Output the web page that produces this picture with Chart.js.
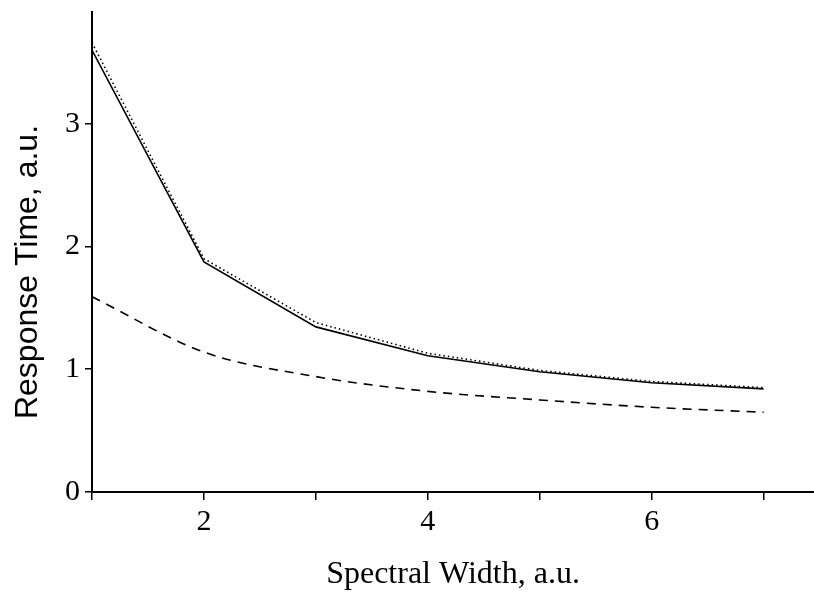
<!DOCTYPE html>
<html>
<head>
<meta charset="utf-8">
<script src="https://cdn.jsdelivr.net/npm/chart.js@4.4.1/dist/chart.umd.min.js"></script>
<style>
    html, body { margin: 0; padding: 0; background: #fff; }
    #wrap { width: 814px; height: 594px; }
</style>
</head>
<body>
<div id="wrap"><canvas id="chart"></canvas></div>
<script>
// --- DATOS ---
const widths = [1, 2, 3, 4, 5, 6, 7];
const solidTimes = [3.60, 1.875, 1.345, 1.11, 0.98, 0.89, 0.84];
const dottedTimes = [3.66, 1.90, 1.38, 1.13, 0.99, 0.90, 0.85];
const dashedTimes = [1.59, 1.14, 0.94, 0.82, 0.75, 0.69, 0.65];
const xTickValues = [1, 2, 3, 4, 5, 6, 7];
const xTickLabels = ['', '2', '', '4', '', '6', ''];
const yTickValues = [0, 1, 2, 3];

const toPoints = (ys) => widths.map((x, i) => ({ x: x, y: ys[i] }));

// Título del eje Y dibujado a mano para poder centrarlo donde está en la figura
const yTitlePlugin = {
    id: 'yTitle',
    afterDraw(chart) {
        const ctx = chart.ctx;
        ctx.save();
        ctx.translate(28, 272);
        ctx.rotate(-Math.PI / 2);
        ctx.font = '32px "Liberation Sans", Arial, sans-serif';
        ctx.fillStyle = '#000';
        ctx.textAlign = 'center';
        ctx.textBaseline = 'middle';
        ctx.fillText('Response Time, a.u.', 0, 0);
        ctx.restore();
    }
};

const serif = '"Liberation Serif", "Times New Roman", serif';

new Chart(document.getElementById('chart'), {
    type: 'line',
    data: {
        datasets: [
            {
                data: toPoints(dottedTimes),
                borderColor: '#000',
                borderWidth: 1.6,
                borderDash: [1.5, 3],
                pointRadius: 0,
                tension: 0
            },
            {
                data: toPoints(solidTimes),
                borderColor: '#000',
                borderWidth: 1.6,
                pointRadius: 0,
                tension: 0
            },
            {
                data: toPoints(dashedTimes),
                borderColor: '#000',
                borderWidth: 1.6,
                borderDash: [9, 7],
                pointRadius: 0,
                cubicInterpolationMode: 'monotone'
            }
        ]
    },
    options: {
        responsive: true,
        maintainAspectRatio: false,
        animation: false,
        layout: { padding: { top: 12, right: 0, left: 0, bottom: 0 } },
        plugins: { legend: { display: false }, tooltip: { enabled: false } },
        scales: {
            x: {
                type: 'linear',
                min: 1,
                max: 7.45,
                afterFit(scale) {
                    scale.height = 102;
                    scale.paddingLeft = 0;
                    scale.paddingRight = 0;
                },
                afterBuildTicks(scale) { scale.ticks = xTickValues.map(v => ({ value: v })); },
                border: { display: true, color: '#000', width: 2 },
                grid: { drawOnChartArea: false, drawTicks: true, tickLength: 8, color: '#000', lineWidth: 1.5 },
                ticks: {
                    autoSkip: false,
                    maxRotation: 0,
                    padding: 4,
                    color: '#000',
                    font: { family: serif, size: 30 },
                    callback: (v) => xTickLabels[xTickValues.indexOf(v)] ?? ''
                },
                title: {
                    display: true,
                    text: 'Spectral Width, a.u.',
                    color: '#000',
                    font: { family: serif, size: 32 },
                    padding: { top: 0, bottom: 0 }
                }
            },
            y: {
                min: 0,
                max: 3.91,
                afterFit(scale) {
                    scale.width = 92;
                    scale.paddingTop = 0;
                    scale.paddingBottom = 0;
                },
                afterBuildTicks(scale) { scale.ticks = yTickValues.map(v => ({ value: v })); },
                border: { display: true, color: '#000', width: 2 },
                grid: { drawOnChartArea: false, drawTicks: true, tickLength: 7, color: '#000', lineWidth: 1.5 },
                ticks: {
                    padding: 5,
                    color: '#000',
                    font: { family: serif, size: 30 }
                }
            }
        }
    },
    plugins: [yTitlePlugin]
});
</script>
</body>
</html>
